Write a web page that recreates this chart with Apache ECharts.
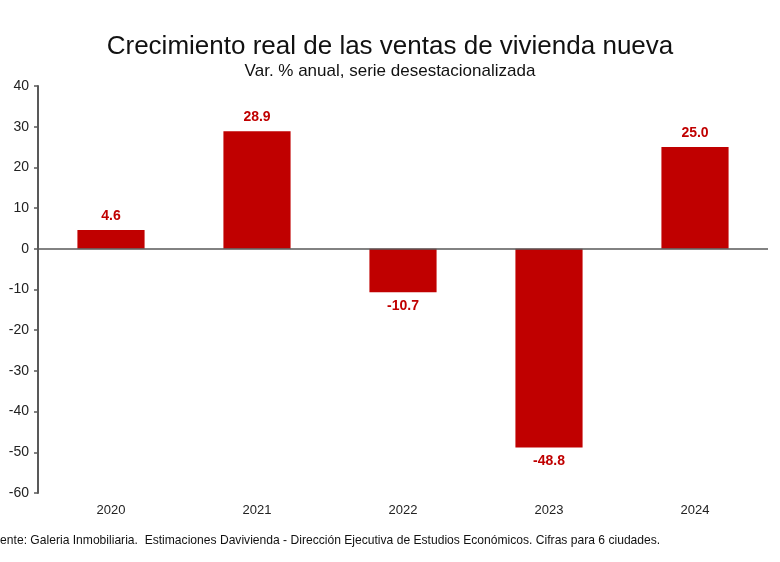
<!DOCTYPE html>
<html><head><meta charset="utf-8">
<script src="https://cdn.jsdelivr.net/npm/echarts@6/dist/echarts.min.js"></script>
<style>html,body{margin:0;padding:0;background:#fff}#c{width:780px;height:562px}</style>
</head><body><div id="c"></div>
<script>
const categories = ['2020','2021','2022','2023','2024'];
const values = [4.6, 28.9, -10.7, -48.8, 25.0];
const yTicks = {min: -60, max: 40, interval: 10};
const titleText = 'Crecimiento real de las ventas de vivienda nueva';
const subtitleText = 'Var. % anual, serie desestacionalizada';
const footerText = 'Fuente: Galeria Inmobiliaria.  Estimaciones Davivienda - Dirección Ejecutiva de Estudios Económicos. Cifras para 6 ciudades.';

const chart = echarts.init(document.getElementById('c'), null, {renderer: 'canvas'});
const font = 'Liberation Sans, Arial, sans-serif';
chart.setOption({
  backgroundColor: '#fff',
  animation: false,
  title: [
    {text: titleText, left: 'center', top: 29, textStyle: {fontFamily: font, fontSize: 26, fontWeight: 'normal', color: '#111'}},
    {text: subtitleText, left: 'center', top: 58, textStyle: {fontFamily: font, fontSize: 17, fontWeight: 'normal', color: '#111'}}
  ],
  grid: {left: 38, right: 12, top: 86, bottom: 69, containLabel: false},
  xAxis: {
    type: 'category', data: categories, position: 'bottom',
    axisLine: {show: false}, axisTick: {show: false},
    axisLabel: {fontFamily: font, fontSize: 13, color: '#222', margin: 11}
  },
  yAxis: {
    type: 'value', min: yTicks.min, max: yTicks.max, interval: yTicks.interval,
    splitLine: {show: false},
    axisLine: {show: true, lineStyle: {color: '#595959', width: 2}},
    axisTick: {show: true, length: 4, lineStyle: {color: '#595959', width: 1.5}},
    axisLabel: {fontFamily: font, fontSize: 14, color: '#222', margin: 9}
  },
  series: [{
    type: 'bar', data: values, barWidth: '46%',
    itemStyle: {color: '#c00000'},
    label: {
      show: true, position: 'outside',
      formatter: p => p.value.toFixed(1),
      fontFamily: font, fontSize: 14, fontWeight: 'bold', color: '#c00000', distance: 7
    },
    markLine: {
      silent: true, symbol: 'none', label: {show: false},
      lineStyle: {color: '#595959', width: 1.5, type: 'solid'},
      data: [{yAxis: 0}]
    }
  }],
  graphic: [{
    type: 'text', left: -14, top: 535,
    style: {text: footerText, font: '12.1px ' + font, fill: '#111'}
  }]
});
</script></body></html>
